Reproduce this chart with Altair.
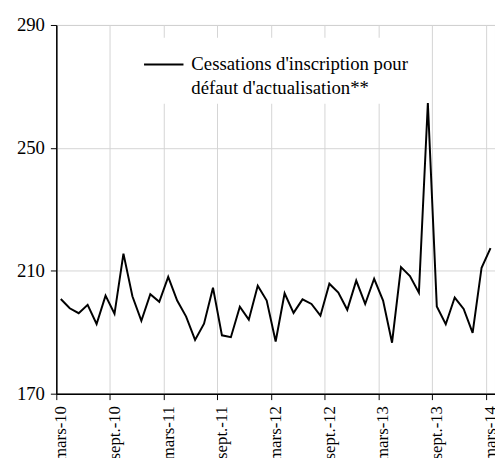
import json
import altair as alt
import pandas as pd

# Monthly values, mars-10 .. mars-14
values = [200.8, 197.8, 196.2, 198.9, 192.7, 201.9, 196.0, 215.6, 201.7, 193.7,
          202.4, 199.9, 208.0, 200.3, 195.1, 187.5, 192.8, 204.5, 189.0, 188.4,
          198.3, 194.1, 205.1, 200.3, 187.0, 202.7, 196.3, 200.7, 199.2, 195.4,
          205.8, 202.9, 197.3, 206.8, 199.2, 207.4, 200.3, 186.6, 211.2, 208.3,
          202.9, 264.6, 198.4, 192.6, 201.3, 197.6, 189.8, 211.0, 217.4]
tick_labels = ["mars-10", "sept.-10", "mars-11", "sept.-11", "mars-12",
               "sept.-12", "mars-13", "sept.-13", "mars-14"]
y_ticks = [170, 210, 250, 290]
legend_lines = ["Cessations d'inscription pour", "défaut d'actualisation**"]
series_name = " ".join(legend_lines)

df = pd.DataFrame({
    "m": list(range(len(values))),
    "v": values,
    "s": [series_name] * len(values),
})

FONT = "Times New Roman, Liberation Serif, serif"
label_arr = "[" + ",".join(json.dumps(t) for t in tick_labels) + "]"
legend_arr = "[" + ",".join(json.dumps(t) for t in legend_lines) + "]"

x_ticks = [-0.5 + 6 * k for k in range(len(tick_labels))]

chart = alt.Chart(df).mark_line(color="black", strokeWidth=2, clip=True).encode(
    x=alt.X(
        "m:Q",
        scale=alt.Scale(domain=[-0.5, 48.5], nice=False, zero=False),
        axis=alt.Axis(
            values=x_ticks,
            labelExpr=label_arr + "[round((datum.value + 0.5) / 6)]",
            labelAngle=-90,
            labelAlign="right",
            labelBaseline="middle",
            labelOffset=4.5,
            labelFlush=False,
            labelOverlap=False,
            labelPadding=6,
            labelFont=FONT,
            labelFontSize=17,
            labelColor="black",
            grid=True,
            gridColor="#d4d4d4",
            gridWidth=1,
            tickColor="black",
            tickSize=6,
            domainColor="black",
            domainWidth=1.5,
            title=None,
        ),
    ),
    y=alt.Y(
        "v:Q",
        scale=alt.Scale(domain=[170, 290], nice=False, zero=False),
        axis=alt.Axis(
            values=y_ticks,
            labelFont=FONT,
            labelFontSize=19,
            labelColor="black",
            labelPadding=6,
            grid=True,
            gridColor="#d4d4d4",
            gridWidth=1,
            tickColor="black",
            tickSize=6,
            domainColor="black",
            domainWidth=1.5,
            title=None,
        ),
    ),
    color=alt.Color(
        "s:N",
        scale=alt.Scale(range=["black"]),
        legend=alt.Legend(
            title=None,
            orient="none",
            legendX=82,
            legendY=13,
            fillColor="white",
            padding=6,
            symbolType="stroke",
            symbolSize=1600,
            symbolStrokeWidth=2,
            labelExpr=legend_arr,
            labelFont=FONT,
            labelFontSize=19,
            labelColor="black",
            labelLimit=400,
            labelOffset=7,
            labelBaseline="middle",
        ),
    ),
).properties(
    width=445,
    height=374,
    autosize=alt.AutoSizeParams(type="none"),
    padding={"left": 49, "top": 14, "right": 0, "bottom": 62},
).configure(
    font=FONT,
    background="white",
    style={"guide-label": {"lineHeight": 24}},
).configure_view(
    stroke="#8a8a8a",
    strokeWidth=1,
)

chart.save("out.html", embed_options={"renderer": "svg", "actions": False})
